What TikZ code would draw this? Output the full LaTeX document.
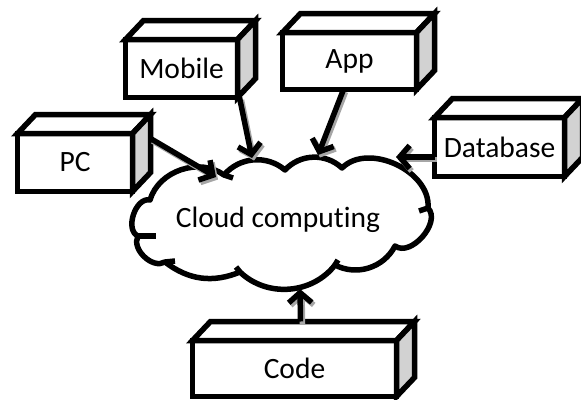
\documentclass[tikz,border=0pt]{standalone}
\usepackage{fontspec}
\setmainfont{Carlito}[Ligatures=NoCommon]
\usetikzlibrary{arrows.meta,calc}

\tikzset{
  x=1pt, y=-1pt,
  label font/.style={font=\fontsize{29.5}{31}\selectfont},
  face/.style={draw=black, line width=5.5pt, line join=miter},
  frontface/.style={face, fill=white, inner sep=0pt, outer sep=0pt, label font},
  sideface/.style={face, fill=gray!35},
  topface/.style={face, fill=white},
  cloudline/.style={draw=black, line width=5.5pt, line join=round, fill=white},
  puffstub/.style={draw=black, line width=5.5pt},
  link/.style={line width=5.5pt,
    -{Straight Barb[length=10pt,width=23pt]},
    preaction={draw=black!35, line width=5.5pt,
      transform canvas={shift={(2pt,-2.5pt)}}}},
}

% a 3D block: name, centre x, centre y, width, height, text
\newcommand\blocknode[6]{%
  \node[frontface, minimum width=#4pt, minimum height=#5pt] (#1) at (#2,#3) {#6};
  \draw[topface] (#1.north west) -- ++(18,-19) -- ($(#1.north east)+(18,-19)$)
    -- (#1.north east) -- cycle;
  \draw[sideface] (#1.north east) -- ++(18,-19) -- ($(#1.south east)+(18,-19)$)
    -- (#1.south east) -- cycle;
}

\begin{document}
\begin{tikzpicture}
\useasboundingbox (0,0) rectangle (581,399);

\blocknode{pc}{75}{162.5}{115}{58}{PC}
\blocknode{mobile}{181.5}{68.5}{112}{58}{Mobile}
\blocknode{app}{349.5}{61}{134}{57}{App}
\blocknode{db}{499.5}{147}{130}{59}{Database}
\blocknode{code}{294.5}{368.5}{204}{56}{Code}

% the cloud outline, puff by puff (drawn with y pointing up)
\begin{scope}[y=1pt]
  \draw[cloudline] (150,-200)
    to[bend left=55] (224,-175)
    to[bend left=45] (285,-170)
    to[bend left=45] (342,-168)
    to[bend left=70] (428,-208)
    to[bend left=85] (395,-246)
    to[bend left=45] (335,-265)
    to[bend left=48] (240,-272)
    to[bend left=30] (165,-262)
    to[bend left=75] (138,-236)
    to[bend left=85] (150,-200) -- cycle;
  % short inner strokes where the puffs meet
  \draw[puffstub] (224,-175) -- (233,-178);
  \draw[puffstub] (428,-208) -- (419,-211);
  \draw[puffstub] (165,-262) -- (175,-261);
  \draw[puffstub] (138,-236) -- (156,-236);
  \draw[puffstub] (240,-272) -- (236,-267);
  \draw[puffstub] (335,-265) -- (338,-260);
\end{scope}
\node[label font] (cloud) at (278,220) {Cloud computing};

% where each connector leaves its block
\coordinate (pc-out) at ($(pc.north east)+(18,5)$);
\coordinate (mobile-out) at ($(mobile.south east)+(2,0)$);
\coordinate (app-out) at ($(app.south)+(-6,0)$);
\coordinate (db-out) at ($(db.west)+(0,10)$);
\coordinate (code-out) at ($(code.north)+(6,-19)$);

% where each connector meets the cloud
\coordinate (cloud-pc) at (216,177);
\coordinate (cloud-mobile) at (252,158);
\coordinate (cloud-app) at (318,155);
\coordinate (cloud-db) at (396,157);
\coordinate (cloud-code) at (300,289);

\draw[link] (pc-out) -- (cloud-pc);
\draw[link] (mobile-out) -- (cloud-mobile);
\draw[link] (app-out) -- (cloud-app);
\draw[link] (db-out) -- (cloud-db);
\draw[link] (code-out) -- (cloud-code);
\end{tikzpicture}
\end{document}
